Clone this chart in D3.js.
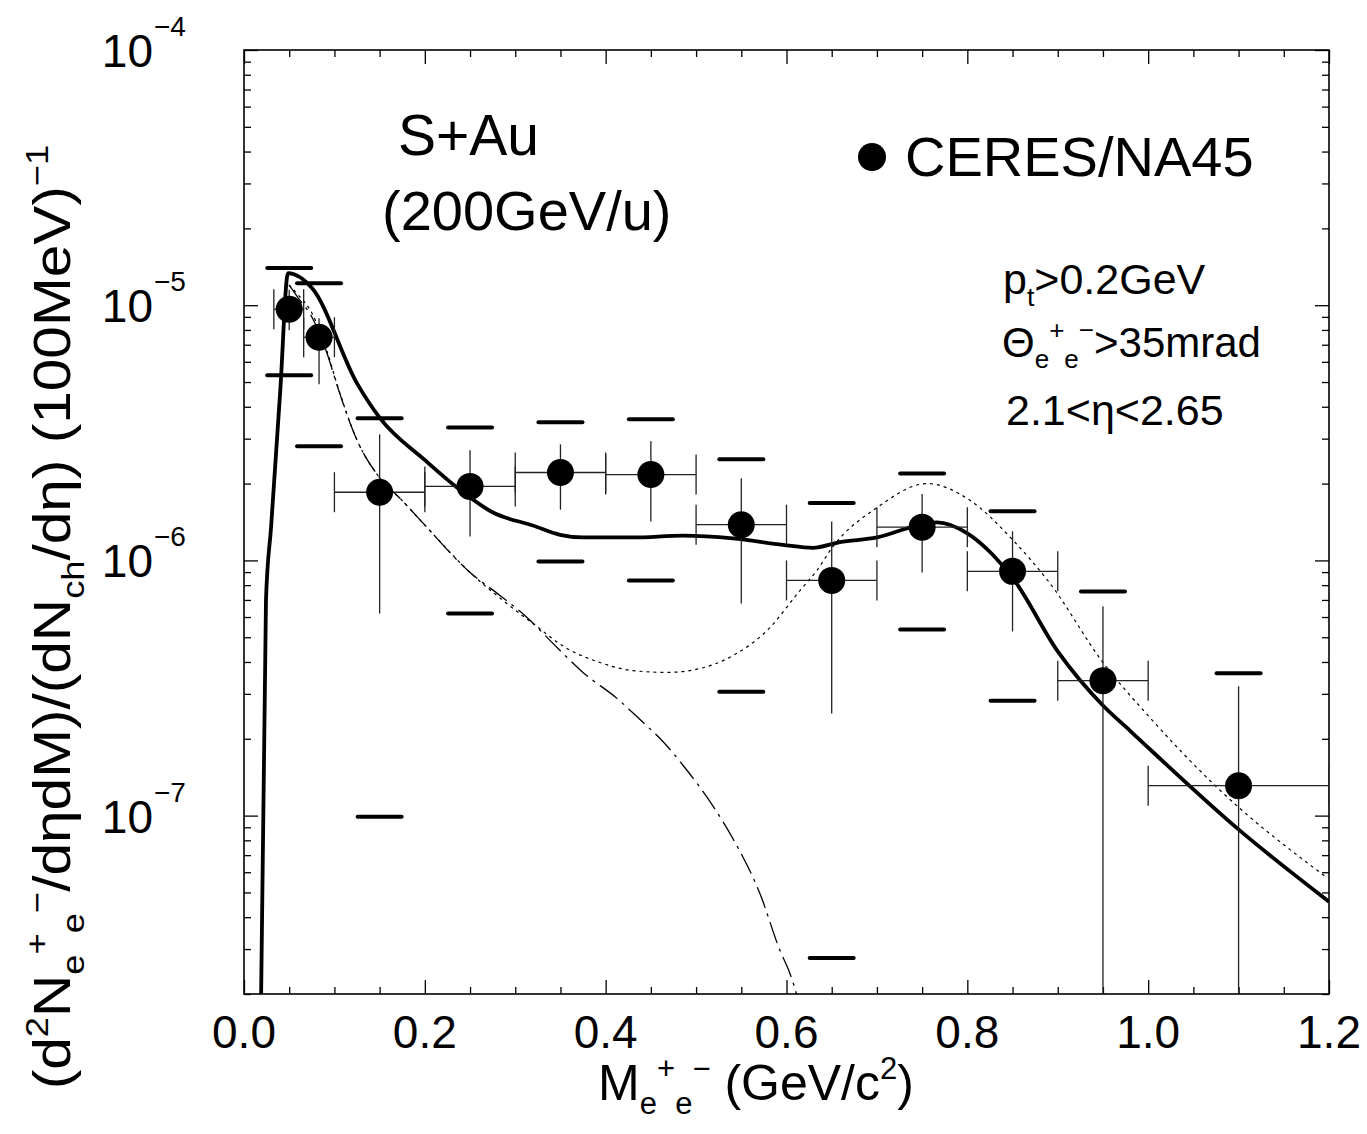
<!DOCTYPE html>
<html>
<head>
<meta charset="utf-8">
<script src="https://cdn.jsdelivr.net/npm/d3@7"></script>
<style>
  html, body { margin: 0; padding: 0; background: #fff; }
  svg { display: block; font-family: "Liberation Sans", Arial, Helvetica, sans-serif; }
</style>
</head>
<body>
<div id="chart"></div>
<script>
// CERES/NA45 points (mass in GeV/c^2)
const mass   = [0.05, 0.083, 0.15, 0.25, 0.35, 0.45, 0.55, 0.65, 0.75, 0.85, 0.95, 1.1];
const yieldV = [9.64e-6, 7.49e-6, 1.85e-6, 1.95e-6, 2.21e-6, 2.17e-6, 1.38e-6, 8.35e-7, 1.35e-6, 9.06e-7, 3.38e-7, 1.31e-7];
const statHi = [1.15e-5, 8.89e-6, 3.12e-6, 2.70e-6, 2.85e-6, 2.93e-6, 2.10e-6, 1.42e-6, 1.82e-6, 1.30e-6, 6.61e-7, 3.21e-7];
const statLo = [7.98e-6, 4.90e-6, 6.19e-7, 1.24e-6, 1.58e-6, 1.42e-6, 6.78e-7, 2.51e-7, 8.97e-7, 5.27e-7, 1e-8, 1e-8];
const binLo  = [0.033, 0.066, 0.1, 0.2, 0.3, 0.4, 0.5, 0.6, 0.7, 0.8, 0.9, 1.0];
const binHi  = [0.066, 0.1, 0.2, 0.3, 0.4, 0.5, 0.6, 0.7, 0.8, 0.9, 1.0, 1.2];
const sysHi  = [1.40e-5, 1.22e-5, 3.61e-6, 3.32e-6, 3.48e-6, 3.57e-6, 2.49e-6, 1.68e-6, 2.19e-6, 1.56e-6, 7.55e-7, 3.61e-7];
const sysLo  = [5.31e-6, 2.80e-6, 9.9e-8, 6.19e-7, 9.9e-7, 8.35e-7, 3.06e-7, 2.77e-8, 5.36e-7, 2.82e-7, null, null];

// model curves
const solidMass = [0.0185, 0.0243, 0.030, 0.040, 0.0487, 0.0752, 0.125, 0.1504, 0.2002, 0.2356, 0.2754, 0.3196, 0.3495, 0.3749, 0.4302, 0.4855, 0.5408, 0.5961, 0.6293, 0.659, 0.7001, 0.7443, 0.7664, 0.7996, 0.8284, 0.8505, 0.9002, 0.950, 0.980, 1.1015, 1.2];
const solidVal  = [1.5e-8, 6.97e-7, 1.36e-6, 4.56e-6, 1.335e-5, 1.167e-5, 4.94e-6, 3.61e-6, 2.47e-6, 1.93e-6, 1.54e-6, 1.37e-6, 1.26e-6, 1.23e-6, 1.23e-6, 1.25e-6, 1.22e-6, 1.15e-6, 1.12e-6, 1.18e-6, 1.23e-6, 1.37e-6, 1.41e-6, 1.28e-6, 1.05e-6, 8.5e-7, 4.39e-7, 2.70e-7, 2.15e-7, 8.73e-8, 4.60e-8];

const dashMass = [0.0498, 0.0597, 0.0752, 0.0918, 0.1029, 0.125, 0.1504, 0.1747, 0.198, 0.25, 0.2831, 0.313, 0.3417, 0.3749, 0.4125, 0.4413, 0.4623, 0.4877, 0.5043, 0.5187, 0.5408, 0.5707, 0.5928, 0.6039, 0.6116, 0.62];
const dashVal  = [1.20e-5, 1.07e-5, 8.97e-6, 6.48e-6, 4.86e-6, 2.96e-6, 2.10e-6, 1.72e-6, 1.40e-6, 8.97e-7, 7.29e-7, 5.98e-7, 4.73e-7, 3.64e-7, 2.88e-7, 2.32e-7, 1.97e-7, 1.54e-7, 1.29e-7, 1.09e-7, 8.12e-8, 4.94e-8, 2.96e-8, 2.40e-8, 1.97e-8, 1.5e-8];

const dotMass = [0.0498, 0.0597, 0.0752, 0.0918, 0.1029, 0.125, 0.1504, 0.1747, 0.198, 0.25, 0.2864, 0.3196, 0.3572, 0.3937, 0.4302, 0.4678, 0.5043, 0.5408, 0.5784, 0.6149, 0.6337, 0.6503, 0.7001, 0.7554, 0.8029, 0.8505, 0.8914, 0.950, 1.002, 1.0761, 1.1977];
const dotVal  = [1.20e-5, 1.10e-5, 9.3e-6, 6.6e-6, 4.9e-6, 2.96e-6, 2.10e-6, 1.72e-6, 1.40e-6, 8.97e-7, 6.97e-7, 5.66e-7, 4.52e-7, 3.98e-7, 3.70e-7, 3.64e-7, 3.77e-7, 4.24e-7, 5.31e-7, 7.62e-7, 9.14e-7, 1.12e-6, 1.61e-6, 2.00e-6, 1.72e-6, 1.20e-6, 8.13e-7, 3.98e-7, 2.42e-7, 1.29e-7, 5.71e-8];

const xMajor = [0, 0.2, 0.4, 0.6, 0.8, 1.0, 1.2];
const xLabels = ["0.0", "0.2", "0.4", "0.6", "0.8", "1.0", "1.2"];
const yDecades = [1e-7, 1e-6, 1e-5, 1e-4];
const yExp = ["\u22127", "\u22126", "\u22125", "\u22124"];

const width = 1367, height = 1134;
const margin = { left: 244, right: 1329, top: 50, bottom: 994 };

const svg = d3.select("#chart").append("svg")
    .attr("width", width)
    .attr("height", height);

const x = d3.scaleLinear().domain([0, 1.2]).range([margin.left, margin.right]);
const y = d3.scaleLog().domain([2e-8, 1e-4]).range([margin.bottom, margin.top]);

svg.append("clipPath").attr("id", "plot")
    .append("rect")
    .attr("x", margin.left).attr("y", margin.top)
    .attr("width", margin.right - margin.left).attr("height", margin.bottom - margin.top);

// axes (ticks inward on all four sides)
const xMinor = d3.range(0, 1.2001, 0.05).filter(v => Math.abs(v / 0.2 - Math.round(v / 0.2)) > 1e-6);
const yMinor = [];
[1e-8, 1e-7, 1e-6, 1e-5].forEach(d => { for (let k = 2; k <= 9; k++) { const v = k * d; if (v >= 2e-8 && v < 1e-4) yMinor.push(v); } });

function strip(g) {
    g.select(".domain").remove();
    g.selectAll("line").attr("stroke", "#000").attr("stroke-width", 1.3);
}

svg.append("g").attr("transform", `translate(0,${margin.bottom})`)
    .call(d3.axisBottom(x).tickValues(xMajor).tickSize(-14).tickFormat(""))
    .call(strip);
svg.append("g").attr("transform", `translate(0,${margin.bottom})`)
    .call(d3.axisBottom(x).tickValues(xMinor).tickSize(-7).tickFormat(""))
    .call(strip);
svg.append("g").attr("transform", `translate(0,${margin.top})`)
    .call(d3.axisTop(x).tickValues(xMajor).tickSize(-14).tickFormat(""))
    .call(strip);
svg.append("g").attr("transform", `translate(0,${margin.top})`)
    .call(d3.axisTop(x).tickValues(xMinor).tickSize(-7).tickFormat(""))
    .call(strip);

svg.append("g").attr("transform", `translate(${margin.left},0)`)
    .call(d3.axisLeft(y).tickValues(yDecades).tickSize(-14).tickFormat(""))
    .call(strip);
svg.append("g").attr("transform", `translate(${margin.left},0)`)
    .call(d3.axisLeft(y).tickValues(yMinor).tickSize(-7).tickFormat(""))
    .call(strip);
svg.append("g").attr("transform", `translate(${margin.right},0)`)
    .call(d3.axisRight(y).tickValues(yDecades).tickSize(-14).tickFormat(""))
    .call(strip);
svg.append("g").attr("transform", `translate(${margin.right},0)`)
    .call(d3.axisRight(y).tickValues(yMinor).tickSize(-7).tickFormat(""))
    .call(strip);

svg.append("rect")
    .attr("x", margin.left).attr("y", margin.top)
    .attr("width", margin.right - margin.left).attr("height", margin.bottom - margin.top)
    .attr("fill", "none").attr("stroke", "#000").attr("stroke-width", 1.6);

// tick labels
svg.selectAll("text.xlab")
    .data(xMajor)
    .join("text")
    .attr("class", "xlab")
    .attr("x", d => x(d))
    .attr("y", 1048)
    .attr("text-anchor", "middle")
    .attr("font-size", 46)
    .text((d, i) => xLabels[i]);

svg.selectAll("text.ylab")
    .data(yDecades)
    .join("text")
    .attr("class", "ylab")
    .attr("x", 153)
    .attr("y", d => y(d) + 17)
    .attr("text-anchor", "end")
    .attr("font-size", 46)
    .text("10");

svg.selectAll("text.yexp")
    .data(yDecades)
    .join("text")
    .attr("class", "yexp")
    .attr("x", 154)
    .attr("y", d => y(d) - 14)
    .attr("font-size", 28)
    .text((d, i) => yExp[i]);

// rich text helper: parts [text, shift] with shift 1 = sup, -1 = sub
function rich(sel, parts, size) {
    let cur = 0;
    parts.forEach(([t, s]) => {
        const target = s === 1 ? -0.42 * size : s === -1 ? 0.27 * size : 0;
        sel.append("tspan")
            .attr("dy", target - cur)
            .attr("font-size", s ? size * 0.62 : size)
            .text(t);
        cur = target;
    });
    return sel;
}

// axis titles
rich(svg.append("text")
    .attr("x", 756).attr("y", 1100)
    .attr("text-anchor", "middle"),
    [["M", 0], ["e", -1], ["+", 1], ["e", -1], ["\u2212", 1], [" (GeV/c", 0], ["2", 1], [")", 0]], 50);

const yt = svg.append("g");
const ytext = rich(yt.append("text").attr("text-anchor", "middle"),
    [["(d", 0], ["2", 1], ["N", 0], ["e", -1], ["+", 1], ["e", -1], ["\u2212", 1], ["/d\u03b7dM)/(dN", 0], ["ch", -1],
     ["/d\u03b7) (100MeV)", 0], ["\u22121", 1]], 52);
const bw = ytext.node().getBBox().width;
yt.attr("transform", `translate(70,617) rotate(-90) scale(${945 / bw},1)`);

// model curves
const clip = svg.append("g").attr("clip-path", "url(#plot)");
const line = d3.line().x(d => x(d[0])).y(d => y(d[1])).curve(d3.curveMonotoneX);

clip.append("path")
    .datum(dashMass.map((m, i) => [m, dashVal[i]]))
    .attr("d", line)
    .attr("fill", "none").attr("stroke", "#000").attr("stroke-width", 1.3)
    .attr("stroke-dasharray", "22,6,3,6");

clip.append("path")
    .datum(dotMass.map((m, i) => [m, dotVal[i]]))
    .attr("d", line)
    .attr("fill", "none").attr("stroke", "#000").attr("stroke-width", 1.2)
    .attr("stroke-dasharray", "3,4");

clip.append("path")
    .datum(solidMass.map((m, i) => [m, solidVal[i]]))
    .attr("d", line)
    .attr("fill", "none").attr("stroke", "#000").attr("stroke-width", 3.8)
    .attr("stroke-linejoin", "round");

// error bars
const pts = mass.map((m, i) => ({ m, v: yieldV[i], hi: statHi[i], lo: statLo[i], b0: binLo[i], b1: binHi[i], sh: sysHi[i], sl: sysLo[i] }));

const eb = clip.append("g").attr("stroke", "#222").attr("stroke-width", 1.3);
eb.selectAll("line.v").data(pts).join("line").attr("class", "v")
    .attr("x1", d => x(d.m)).attr("x2", d => x(d.m))
    .attr("y1", d => y(d.hi)).attr("y2", d => y(d.lo));
eb.selectAll("line.h").data(pts).join("line").attr("class", "h")
    .attr("x1", d => x(d.b0)).attr("x2", d => x(d.b1))
    .attr("y1", d => y(d.v)).attr("y2", d => y(d.v));
eb.selectAll("line.c0").data(pts).join("line").attr("class", "c0")
    .attr("x1", d => x(d.b0)).attr("x2", d => x(d.b0))
    .attr("y1", d => y(d.v) - 20).attr("y2", d => y(d.v) + 20);
eb.selectAll("line.c1").data(pts).join("line").attr("class", "c1")
    .attr("x1", d => x(d.b1)).attr("x2", d => x(d.b1))
    .attr("y1", d => y(d.v) - 20).attr("y2", d => y(d.v) + 20);

// systematic brackets
const sysData = [];
pts.forEach(d => { sysData.push([d.m, d.sh]); if (d.sl) sysData.push([d.m, d.sl]); });
clip.selectAll("line.sys").data(sysData).join("line").attr("class", "sys")
    .attr("x1", d => x(d[0]) - 22).attr("x2", d => x(d[0]) + 22)
    .attr("y1", d => y(d[1])).attr("y2", d => y(d[1]))
    .attr("stroke", "#000").attr("stroke-width", 4).attr("stroke-linecap", "round");

clip.selectAll("circle.pt").data(pts).join("circle").attr("class", "pt")
    .attr("cx", d => x(d.m)).attr("cy", d => y(d.v)).attr("r", 13.5)
    .attr("fill", "#000");

// annotations
svg.append("text").attr("x", 398).attr("y", 155).attr("font-size", 57).text("S+Au");
svg.append("text").attr("x", 382).attr("y", 230).attr("font-size", 56).text("(200GeV/u)");
svg.append("circle").attr("cx", 872).attr("cy", 157).attr("r", 14).attr("fill", "#000");
svg.append("text").attr("x", 905).attr("y", 176).attr("font-size", 56).text("CERES/NA45");

rich(svg.append("text").attr("x", 1003).attr("y", 294),
    [["p", 0], ["t", -1], [">0.2GeV", 0]], 43);
rich(svg.append("text").attr("x", 1002).attr("y", 357),
    [["\u0398", 0], ["e", -1], ["+", 1], ["e", -1], ["\u2212", 1], [">35mrad", 0]], 42);
svg.append("text").attr("x", 1006).attr("y", 425).attr("font-size", 43).text("2.1<\u03b7<2.65");
</script>
</body>
</html>
